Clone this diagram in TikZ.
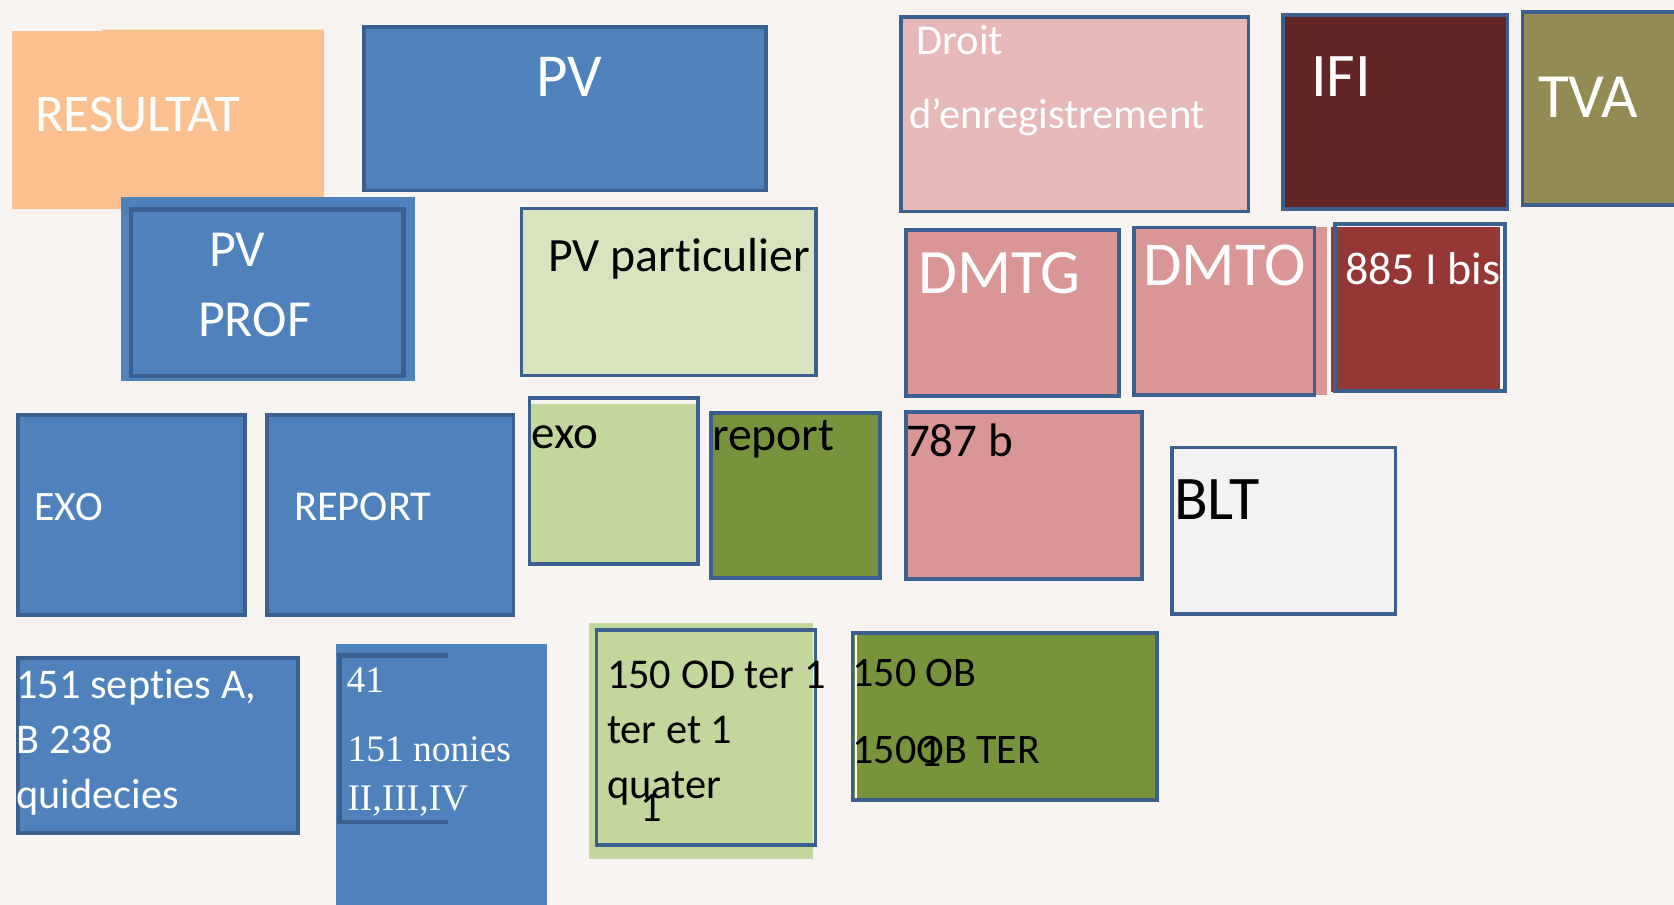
\documentclass[tikz,border=0pt]{standalone}
\usepackage{fontspec}
\setmainfont{Carlito}[Ligatures={NoCommon,NoContextual}]
\newfontfamily\tnr{Liberation Serif}
\definecolor{bg}{HTML}{F7F4F1}
\definecolor{bluefill}{HTML}{4F81BD}
\definecolor{blueline}{HTML}{3B5F8E}
\definecolor{orangefill}{HTML}{FAC090}
\definecolor{palegreen}{HTML}{D7E4BD}
\definecolor{lightgreen}{HTML}{C3D69B}
\definecolor{olivegreen}{HTML}{77933C}
\definecolor{pinklight}{HTML}{E6B9B8}
\definecolor{pinkmid}{HTML}{D99694}
\definecolor{darkred}{HTML}{632523}
\definecolor{brickred}{HTML}{953735}
\definecolor{khaki}{HTML}{948A54}
\definecolor{greywhite}{HTML}{F2F2F2}
\tikzset{
  box/.style={draw=blueline, line width=3.5pt},
  txt/.style={anchor=base west, inner sep=0pt, outer sep=0pt},
  wtxt/.style={txt, text=white},
  btxt/.style={txt, text=black},
}
\newcommand{\fsz}[1]{\fontsize{#1}{#1}\selectfont}
\begin{document}
\begin{tikzpicture}[x=1pt, y=-1pt]
\useasboundingbox (0,0) rectangle (1674,905);
\clip (0,0) rectangle (1674,905);
\fill[bg] (0,0) rectangle (1674,905);

% RESULTAT
\fill[orangefill] (12,31) -- (102,31) -- (102,29.5) -- (324,29.5) -- (324,209) -- (12,209) -- cycle;
\node[wtxt, font=\fsz{53}] (resultat) at (35,131.7) {RESULTAT};

% PV
\filldraw[box, fill=bluefill] (364,26.8) rectangle (765.8,190.5);
\node[wtxt, font=\fsz{61}] (pv) at (536,96.7) {PV};

% PV PROF
\fill[bluefill] (121,197) rectangle (415,381);
\filldraw[box, line width=4.5pt, fill=bluefill] (130.75,209.25) rectangle (403.25,375.75);
\node[wtxt, font=\fsz{52}] (pvprof1) at (209,266.7) {PV};
\node[wtxt, font=\fsz{52}] (pvprof2) at (198,336) {PROF};

% PV particulier
\filldraw[box, fill=palegreen] (521.4,208.5) rectangle (816.2,375.5);
\node[btxt, font=\fsz{47.8}] (pvpart) at (548,271.7) {PV particulier};

% Droit d'enregistrement
\filldraw[box, fill=pinklight] (900.8,16.8) rectangle (1248.5,211.5);
\node[wtxt, font=\fsz{42.5}] (droit1) at (916.5,54) {Droit};
\node[wtxt, font=\fsz{42.5}] (droit2) at (909.5,128.3) {d’enregistrement};

% IFI
\filldraw[box, fill=darkred] (1283,15) rectangle (1507.5,209);
\node[wtxt, font=\fsz{62}] (ifi) at (1311,96.7) {IFI};

% TVA
\filldraw[box, fill=khaki] (1522.5,11.8) rectangle (1700,205);
\node[wtxt, font=\fsz{63}] (tva) at (1538,117.3) {TVA};

% DMTG
\filldraw[box, fill=pinkmid] (905.8,229.8) rectangle (1119.2,396.2);
\node[wtxt, font=\fsz{63.3}] (dmtg) at (918.5,293.3) {DMTG};

% DMTO
\fill[pinkmid] (1132,227) rectangle (1327,395);
\draw[box] (1133.8,227.5) rectangle (1314.5,395);
\node[wtxt, font=\fsz{62.5}] (dmto) at (1143.5,285) {DMTO};

% 885 I bis
\fill[brickred] (1331,227) rectangle (1500,392);
\fill[white] (1500,227) rectangle (1503.5,392);
\begin{scope}
\clip (1331,222) rectangle (1500,393);
\node[wtxt, font=\fsz{46}] (bis) at (1345,284) {885 I bis};
\end{scope}
\draw[box] (1334.8,223.8) rectangle (1505.2,391.2);

% EXO
\filldraw[box, fill=bluefill] (17.8,414.8) rectangle (245.2,615.2);
\node[wtxt, font=\fsz{41.8}] (exoU) at (34.5,520.7) {EXO};

% REPORT
\filldraw[box, fill=bluefill] (266.8,414.8) rectangle (513.5,615.2);
\node[wtxt, font=\fsz{42.6}] (reportU) at (294,520.7) {REPORT};

% exo
\fill[lightgreen] (529.4,404) rectangle (698.2,564.2);
\draw[box] (529.4,397.8) rectangle (698.2,564.2);
\node[btxt, font=\fsz{47}] (exoL) at (531.5,448.3) {exo};

% report
\filldraw[box, fill=olivegreen] (710.8,412.8) rectangle (880.2,578.2);
\node[btxt, font=\fsz{47.7}] (reportL) at (712,450) {report};

% 787 b
\filldraw[box, fill=pinkmid] (905.8,411.8) rectangle (1142,579.2);
\node[btxt, font=\fsz{47}] (seven) at (906,456.7) {787 b};

% BLT
\filldraw[box, fill=greywhite] (1172,447.5) rectangle (1395.5,614.2);
\node[btxt, font=\fsz{62}] (blt) at (1174,519.3) {BLT};

% 151 septies
\filldraw[box, fill=bluefill] (17.8,657.8) rectangle (298.2,833.2);
\node[wtxt, font=\fsz{42.3}] (sept1) at (16.5,698) {151 septies A,};
\node[wtxt, font=\fsz{42.3}] (sept2) at (16.5,753) {B 238};
\node[wtxt, font=\fsz{42.3}] (sept3) at (16.5,808) {quidecies};

% 41 / 151 nonies
\fill[bluefill] (336,644) rectangle (547,905);
\draw[blueline, line width=4.5pt] (448,655.5) -- (339.5,655.5) -- (339.5,822) -- (448,822);
\node[wtxt, font=\tnr\fsz{37.5}] (n41) at (346.5,692.7) {41};
\node[wtxt, font=\tnr\fsz{37.5}] (non1) at (347.5,761.7) {151 nonies};
\node[wtxt, font=\tnr\fsz{37.5}] (non2) at (347.5,810) {II,III,IV};

% 150 OD
\fill[lightgreen] (589,623) rectangle (813,859);
\draw[box] (596.4,629.8) rectangle (815.6,845.2);
\node[btxt, font=\fsz{42.4}] (od1) at (607,688) {150 OD ter 1};
\node[btxt, font=\fsz{42.4}] (od2) at (607,743) {ter et 1};
\node[btxt, font=\fsz{42.4}] (od3) at (607,798) {quater};
\node[btxt, font=\fsz{42.4}] (odone) at (640,821) {1};

% 150 OB
\filldraw[box, fill=olivegreen] (852.5,632.8) rectangle (1156.9,799.9);
\draw[white, line width=2pt] (855.5,634.6) -- (855.5,798);
\node[btxt, font=\fsz{42}] (ob1) at (852.5,686.7) {150 OB};
\node[btxt, font=\fsz{42}] (ob2) at (852.5,763.3) {150OB TER};
\node[btxt, font=\fsz{42}] (obone) at (920.5,766.7) {1};
\end{tikzpicture}
\end{document}
